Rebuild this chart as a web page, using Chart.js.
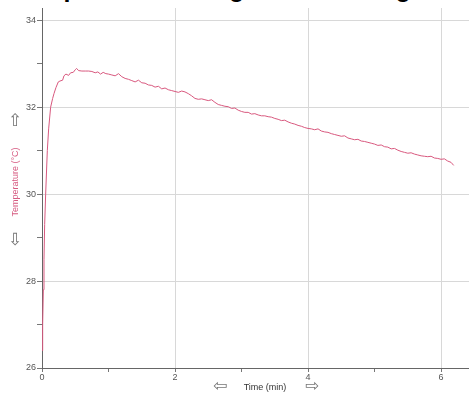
<!DOCTYPE html>
<html>
<head>
<meta charset="utf-8">
<script src="https://cdn.jsdelivr.net/npm/chart.js@4"></script>
<style>
  html, body { margin: 0; padding: 0; background: #fff; overflow: hidden; }
  #wrap { position: relative; width: 469px; height: 394px; overflow: hidden; }
  #title { position: absolute; left: 14px; top: -26px; font: bold 25px "Liberation Sans", Arial, sans-serif; color: #000; white-space: nowrap; }
  canvas { position: absolute; left: 0; top: 0; }
</style>
</head>
<body>
<div id="wrap">
  <div id="title">Temperature change with heating</div>
  <canvas id="myChart" width="469" height="394"></canvas>
</div>
<script>
// time in minutes
const times = [
  0, 0.01, 0.02, 0.03, 0.04, 0.055, 0.07, 0.08, 0.10, 0.13, 0.16, 0.18, 0.21, 0.245, 0.27, 0.31,
  0.33, 0.36, 0.40, 0.43, 0.47, 0.50, 0.52, 0.55, 0.60, 0.65, 0.70, 0.75, 0.80, 0.84, 0.88, 0.92,
  0.96, 1.00, 1.05, 1.10, 1.15, 1.20, 1.25, 1.30, 1.35, 1.40, 1.45, 1.50, 1.55, 1.60, 1.65, 1.70,
  1.75, 1.80, 1.85, 1.90, 1.95, 2.00, 2.05, 2.10, 2.15, 2.20, 2.25, 2.30, 2.35, 2.40, 2.45, 2.50,
  2.55, 2.60, 2.65, 2.70, 2.75, 2.80, 2.85, 2.90, 2.95, 3.00, 3.05, 3.10, 3.15, 3.20, 3.25, 3.30,
  3.35, 3.40, 3.45, 3.50, 3.55, 3.60, 3.65, 3.70, 3.75, 3.80, 3.85, 3.90, 3.95, 4.00, 4.05, 4.10,
  4.15, 4.20, 4.25, 4.30, 4.35, 4.40, 4.45, 4.50, 4.55, 4.60, 4.65, 4.70, 4.75, 4.80, 4.85, 4.90,
  4.95, 5.00, 5.05, 5.10, 5.15, 5.20, 5.25, 5.30, 5.35, 5.40, 5.45, 5.50, 5.55, 5.60, 5.65, 5.70,
  5.75, 5.80, 5.85, 5.90, 5.95, 6.00, 6.05, 6.10, 6.15, 6.19
];
// temperature in °C
const temps = [
  26.40, 27.00, 27.80, 28.50, 29.30, 30.00, 30.60, 31.00, 31.50, 32.00, 32.20, 32.31, 32.45, 32.58, 32.60, 32.62,
  32.72, 32.76, 32.73, 32.79, 32.80, 32.86, 32.89, 32.84, 32.83, 32.83, 32.83, 32.82, 32.79, 32.81, 32.76, 32.80,
  32.77, 32.76, 32.74, 32.72, 32.77, 32.70, 32.66, 32.64, 32.61, 32.58, 32.62, 32.56, 32.55, 32.51, 32.50, 32.46,
  32.48, 32.42, 32.44, 32.40, 32.38, 32.36, 32.34, 32.37, 32.35, 32.31, 32.26, 32.20, 32.18, 32.19, 32.17, 32.15,
  32.17, 32.11, 32.06, 32.04, 32.02, 32.01, 31.97, 31.98, 31.93, 31.90, 31.88, 31.88, 31.84, 31.85, 31.82, 31.80,
  31.80, 31.78, 31.77, 31.74, 31.72, 31.69, 31.70, 31.66, 31.63, 31.61, 31.58, 31.56, 31.53, 31.51, 31.50, 31.48,
  31.50, 31.45, 31.43, 31.42, 31.39, 31.37, 31.35, 31.33, 31.34, 31.29, 31.27, 31.25, 31.26, 31.22, 31.21, 31.19,
  31.17, 31.15, 31.12, 31.13, 31.09, 31.08, 31.04, 31.05, 31.01, 30.98, 30.96, 30.94, 30.95, 30.92, 30.90, 30.88,
  30.87, 30.86, 30.87, 30.83, 30.82, 30.80, 30.81, 30.76, 30.73, 30.66
];
const xTicks = [0, 1, 2, 3, 4, 5, 6];
const yTicks = [26, 27, 28, 29, 30, 31, 32, 33, 34];

const points = times.map((t, i) => ({ x: t, y: temps[i] }));

const axisTitles = {
  id: 'axisTitles',
  afterDraw(chart) {
    const { ctx } = chart;
    ctx.save();
    ctx.textAlign = 'center';
    ctx.textBaseline = 'middle';
    // x title
    ctx.fillStyle = '#333';
    ctx.font = '9px "Liberation Sans", Arial, sans-serif';
    ctx.fillText('Time (min)', 265, 388);
    ctx.fillStyle = '#777';
    ctx.font = '17px "DejaVu Sans", sans-serif';
    ctx.fillText('\u21E6', 220, 387);
    ctx.fillText('\u21E8', 312, 387);
    // y title
    ctx.save();
    ctx.translate(16, 182);
    ctx.rotate(-Math.PI / 2);
    ctx.fillStyle = '#d65a80';
    ctx.font = '9px "Liberation Sans", Arial, sans-serif';
    ctx.fillText('Temperature (\u00B0C)', 0, 0);
    ctx.restore();
    ctx.fillStyle = '#777';
    ctx.font = '17px "DejaVu Sans", sans-serif';
    ctx.fillText('\u21E7', 15, 122);
    ctx.fillText('\u21E9', 15, 241);
    ctx.restore();
  }
};

const config = {
  type: 'line',
  data: {
    datasets: [
      {
        label: 'Temperature',
        data: points,
        borderColor: '#d8587e',
        borderWidth: 1,
        pointRadius: 0,
        fill: false,
        tension: 0
      }
    ]
  },
  options: {
    responsive: false,
    animation: false,
    layout: { padding: { top: 8, right: 0, left: 0, bottom: 0 } },
    plugins: {
      legend: { display: false },
      tooltip: { enabled: false },
      title: { display: false }
    },
    scales: {
      x: {
        type: 'linear',
        min: 0,
        max: 6.42,
        afterBuildTicks: (s) => { s.ticks = xTicks.map(v => ({ value: v })); },
        afterFit: (s) => { s.height = 26; },
        border: { color: '#666', width: 1 },
        grid: {
          color: (c) => (c.tick && c.tick.value % 2 === 0 && c.tick.value !== 0) ? '#d8d8d8' : 'rgba(0,0,0,0)',
          tickColor: '#777',
          tickLength: 4
        },
        ticks: {
          color: '#555',
          font: { size: 9, family: '"Liberation Sans", Arial, sans-serif' },
          padding: 0,
          maxRotation: 0,
          callback: (v) => (v % 2 === 0 ? v : '')
        }
      },
      y: {
        min: 26,
        max: 34.28,
        afterBuildTicks: (s) => { s.ticks = yTicks.map(v => ({ value: v })); },
        afterFit: (s) => { s.width = 42; },
        border: { color: '#666', width: 1 },
        grid: {
          color: (c) => (c.tick && c.tick.value % 2 === 0 && c.tick.value !== 26) ? '#d8d8d8' : 'rgba(0,0,0,0)',
          tickColor: '#777',
          tickLength: 5
        },
        ticks: {
          color: '#555',
          font: { size: 9, family: '"Liberation Sans", Arial, sans-serif' },
          padding: 1,
          callback: (v) => (v % 2 === 0 ? v : '')
        }
      }
    }
  },
  plugins: [axisTitles]
};

const ctx = document.getElementById('myChart').getContext('2d');
const chartItem = Chart.getChart('myChart');
if (chartItem) chartItem.destroy();
const chart = new Chart(ctx, config);
</script>
</body>
</html>
